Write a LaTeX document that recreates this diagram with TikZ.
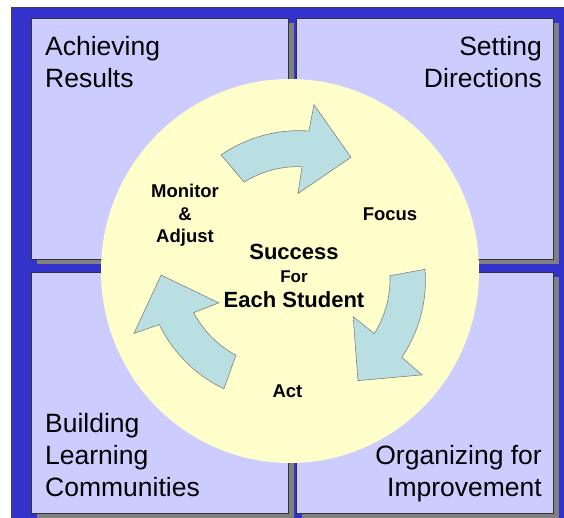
\documentclass[tikz,border=0pt]{standalone}
\usepackage{fontspec}
\setmainfont{Liberation Sans}
\definecolor{frameblue}{HTML}{3333CC}
\definecolor{panelblue}{HTML}{CCCCFF}
\definecolor{hubyellow}{HTML}{FFFFCC}
\definecolor{arrowcyan}{HTML}{B9DFE3}
\definecolor{shadowgray}{HTML}{808080}

\begin{document}
\begin{tikzpicture}[x=1pt,y=1pt,
    panel/.style={draw=black!80,line width=0.8pt,fill=panelblue},
    panelshadow/.style={fill=shadowgray},
    biglabel/.style={font=\fontsize{26.5}{32}\selectfont,inner sep=0pt},
    steplabel/.style={font=\bfseries\fontsize{18.5}{22.5}\selectfont,align=center,inner sep=0pt},
    hublabel/.style={font=\bfseries\fontsize{22}{26}\selectfont,inner sep=0pt,anchor=base},
    cyclearrow/.style={draw=shadowgray,line width=0.6pt,fill=arrowcyan}]
  \clip (0,0) rectangle (564,518);
  \fill[white] (0,0) rectangle (564,518);
  \draw[fill=frameblue,draw=black!75,line width=1pt] (11,-20) rectangle (590,510);
  % four panels, each with a shadow
  \foreach \px/\py in {31/259,296/259,31/5,296/5}{
    \fill[panelshadow] (\px+5.5,\py-5.5) rectangle ++(257,241);
    \draw[panel] (\px,\py) rectangle ++(257,241);
  }
  \coordinate (hub) at (290,247);
  \fill[hubyellow] (hub) ellipse [x radius=189,y radius=192];
  % three curved arrows round the hub
  \foreach \turn in {0,-120,-240}{
    \begin{scope}[shift={(hub)},rotate=\turn]
      \draw[cyclearrow] (120.7:135)
        -- plot[domain=120.7:82.3,samples=30] (\x:{135+(120.7-\x)*0.164})
        -- (81.8:168) -- (61.8:129) -- (84.1:78) -- (83.4:105)
        -- plot[domain=83.4:117.3,samples=30] (\x:{105-(\x-83.4)*0.147})
        -- cycle;
    \end{scope}
  }
  % base of a multi-line node sits on its last line
  \node[biglabel,anchor=base west,align=left] (achieve) at (45,430) {Achieving\\Results};
  \node[biglabel,anchor=base east,align=right] (direct) at (542,430) {Setting\\Directions};
  \node[biglabel,anchor=base west,align=left] (build) at (45,21) {Building\\Learning\\Communities};
  \node[biglabel,anchor=base east,align=right] (organize) at (542,21) {Organizing for\\Improvement};
  \node[steplabel,anchor=base] (monitor) at (185,275) {Monitor\\\&\\Adjust};
  \node[steplabel,anchor=base] (focus) at (390,297) {Focus};
  \node[steplabel,anchor=base] (act) at (287.5,120) {Act};
  \node[hublabel] (success) at (294,258) {Success};
  \node[hublabel,font=\bfseries\fontsize{17}{20}\selectfont] (for) at (294,235) {For};
  \node[hublabel] (student) at (294,210) {Each Student};
\end{tikzpicture}
\end{document}
